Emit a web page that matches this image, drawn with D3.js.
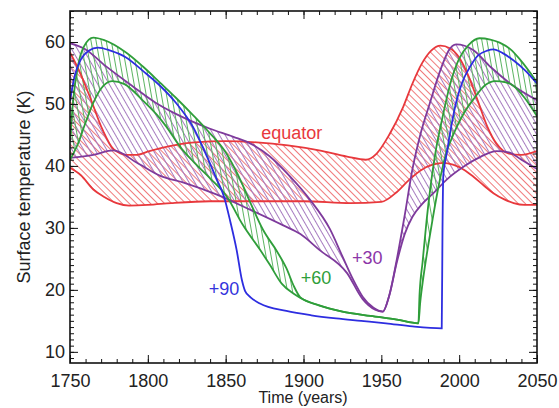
<!DOCTYPE html>
<html>
<head>
<meta charset="utf-8">
<script src="https://cdn.jsdelivr.net/npm/d3@7"></script>
<style>
  body { margin: 0; background: #fff; }
  text { font-family: "Liberation Sans", Arial, Helvetica, sans-serif; }
</style>
</head>
<body>
<svg id="chart" width="559" height="408"></svg>
<script>
// [year, surface temperature K]
const equatorMax = [[1750,58.3],[1756,55.3],[1763,51.0],[1771,45.8],[1778,42.7],[1786,41.8],[1793,41.8],[1801,42.4],[1814,43.2],[1830,43.8],[1850,44.0],[1870,43.8],[1890,43.3],[1910,42.5],[1928,41.5],[1940,41.0],[1947,42.0],[1955,45.0],[1964,49.5],[1970,53.3],[1976,56.5],[1982,58.6],[1988,59.4],[1994,59.0],[2000,57.5],[2006,54.5],[2012,50.5],[2018,46.4],[2024,43.6],[2032,42.0],[2040,41.8],[2050,42.4]];
const equatorMin = [[1750,39.7],[1757,38.5],[1765,36.2],[1772,35.0],[1780,34.0],[1788,33.6],[1800,33.7],[1815,34.0],[1840,34.3],[1870,34.3],[1900,34.3],[1930,34.0],[1950,34.2],[1960,35.8],[1968,37.8],[1976,39.4],[1983,40.2],[1990,40.5],[1996,40.2],[2003,39.4],[2009,38.3],[2016,36.8],[2022,35.6],[2029,34.6],[2035,34.0],[2042,33.7],[2050,33.7]];

const lat30Max = [[1750,59.8],[1760,58.8],[1773,56.1],[1790,52.9],[1805,50.2],[1818,48.4],[1840,46.0],[1855,44.7],[1866,43.6],[1878,41.6],[1891,38.4],[1904,34.6],[1917,29.8],[1925,25.4],[1932,21.6],[1938,18.9],[1945,17.1],[1951,16.5],[1955,19.0],[1960,25.0],[1965,32.0],[1970,39.5],[1975,45.0],[1981,50.0],[1988,55.5],[1993,58.5],[1998,59.6],[2009,58.7],[2020,56.0],[2035,52.9],[2050,50.6]];
const lat30Min = [[1750,41.3],[1765,41.8],[1778,42.5],[1793,40.5],[1808,38.4],[1823,37.3],[1844,35.4],[1866,32.9],[1887,30.4],[1898,29.0],[1910,26.5],[1928,22.7],[1938,18.5],[1946,16.8],[1951,16.5],[1955,19.0],[1960,24.5],[1965,29.0],[1970,31.8],[1976,33.8],[1983,35.5],[1992,37.8],[2003,39.9],[2014,41.5],[2024,42.4],[2032,42.2],[2040,41.0],[2050,39.5]];

const lat60Max = [[1750,44.0],[1752,50.5],[1755,56.0],[1759,59.3],[1765,60.7],[1772,60.3],[1786,58.3],[1797,56.0],[1808,53.4],[1818,51.0],[1829,48.2],[1838,45.8],[1850,42.2],[1858,38.5],[1866,34.0],[1874,29.7],[1883,26.2],[1889,23.5],[1894,20.5],[1898,18.8],[1910,17.5],[1925,16.5],[1943,15.8],[1960,15.2],[1973.8,14.6],[1974.5,19.0],[1976.5,24.5],[1979,31.0],[1981.5,36.5],[1985,42.5],[1989,47.5],[1994,53.0],[2000,57.3],[2006,59.5],[2013,60.6],[2020,60.4],[2026,59.9],[2033,58.8],[2039,57.2],[2050,53.5]];
const lat60Min = [[1750,41.0],[1755,43.5],[1760,47.0],[1765,50.2],[1770,52.5],[1777,53.7],[1785,53.2],[1797,50.5],[1806,48.2],[1812,46.3],[1821,43.0],[1830,40.5],[1840,38.0],[1850.6,35.1],[1861,30.5],[1872,26.5],[1878.5,24.0],[1886,21.0],[1893.5,19.4],[1898,18.7],[1910,17.5],[1925,16.5],[1943,15.8],[1960,15.2],[1973.8,14.6],[1975,18.0],[1977,22.0],[1980,27.0],[1983,31.5],[1987,37.0],[1991,41.5],[1997,45.5],[2003,48.5],[2009,50.7],[2017,53.1],[2023,53.7],[2030,53.5],[2035,52.9],[2042,51.0],[2050,48.0]];

const lat90 = [[1750,50.5],[1753,54.5],[1757,57.2],[1762,58.6],[1768,59.1],[1776,58.6],[1786,57.5],[1797,55.3],[1808,52.9],[1818,50.2],[1829,46.3],[1838,41.5],[1844,38.0],[1849,35.0],[1853,31.0],[1857,26.5],[1860.5,21.5],[1862.5,19.8],[1866,18.8],[1872,17.8],[1889,16.6],[1905,15.9],[1921,15.4],[1937,15.0],[1953,14.6],[1970,14.1],[1988.8,13.8],[1989.3,30.0],[1989.8,38.5],[1992,42.0],[1995,46.5],[1998,50.2],[2002,53.5],[2007,56.0],[2012,57.8],[2018,58.6],[2022,58.8],[2028,58.2],[2035,57.0],[2042,55.5],[2050,53.3]];

const xMajorTicks = [1750, 1800, 1850, 1900, 1950, 2000, 2050];
const yMajorTicks = [10, 20, 30, 40, 50, 60];
const seriesLabels = [
  { text: 'equator', at: [1892.5, 44.3], color: '#e8383c' },
  { text: '+90', at: [1849, 19.1], color: '#3434dc' },
  { text: '+60', at: [1908, 20.9], color: '#2f9e3a' },
  { text: '+30', at: [1941, 24.1], color: '#8c35a8' }
];

const svg = d3.select('#chart');
const x = d3.scaleLinear().domain([1750, 2050]).range([70, 537]);
const y = d3.scaleLinear().domain([8.2, 65]).range([363, 11]);

const defs = svg.append('defs');
defs.append('clipPath').attr('id', 'plot')
  .append('rect').attr('x', 70).attr('y', 11).attr('width', 467).attr('height', 352);

function hatch(id, color, angle, gap) {
  const p = defs.append('pattern')
    .attr('id', id)
    .attr('patternUnits', 'userSpaceOnUse')
    .attr('width', gap).attr('height', gap)
    .attr('patternTransform', `rotate(${angle})`);
  p.append('line')
    .attr('x1', gap / 2).attr('y1', 0).attr('x2', gap / 2).attr('y2', gap)
    .attr('stroke', color).attr('stroke-width', 1);
}
hatch('hRed', '#f07a7c', -45, 5);
hatch('hPurple', '#a77bc0', -30, 5);
hatch('hGreen', '#5cb462', -10, 5);

const line = d3.line().x(d => x(d[0])).y(d => y(d[1])).curve(d3.curveMonotoneX);

// zone entre deux courbes : courbe haute puis courbe basse à l'envers
function band(upper, lower) {
  const back = line(lower.slice().reverse()).replace(/^M/, 'L');
  return line(upper) + back + 'Z';
}

const g = svg.append('g').attr('clip-path', 'url(#plot)');

g.append('path').attr('d', band(equatorMax, equatorMin)).attr('fill', 'url(#hRed)');
g.append('path').attr('d', band(lat30Max, lat30Min)).attr('fill', 'url(#hPurple)');
g.append('path').attr('d', band(lat60Max, lat60Min)).attr('fill', 'url(#hGreen)');

const curves = [
  [equatorMax, '#e8383c'], [equatorMin, '#e8383c'],
  [lat30Max, '#7e3a9c'], [lat30Min, '#7e3a9c'],
  [lat60Max, '#2f9e3a'], [lat60Min, '#2f9e3a'],
  [lat90, '#2d2de0']
];
g.selectAll('path.curve').data(curves).enter()
  .append('path')
  .attr('class', 'curve')
  .attr('d', d => line(d[0]))
  .attr('fill', 'none')
  .attr('stroke', d => d[1])
  .attr('stroke-width', 1.8);

svg.selectAll('text.lbl').data(seriesLabels).enter()
  .append('text')
  .attr('class', 'lbl')
  .attr('x', d => x(d.at[0]))
  .attr('y', d => y(d.at[1]))
  .attr('text-anchor', 'middle')
  .attr('fill', d => d.color)
  .attr('font-size', 18)
  .text(d => d.text);

// axes, ticks vers l'intérieur sur les quatre côtés
const xMinor = d3.range(1750, 2051, 10);
const yMinor = d3.range(9, 66, 1);

function addAxis(axis, transform) {
  const a = svg.append('g').attr('transform', transform).call(axis);
  a.select('.domain').remove();
  a.selectAll('.tick line').attr('stroke', '#111');
  return a;
}

addAxis(d3.axisBottom(x).tickValues(xMinor).tickSize(-4).tickFormat(''), 'translate(0,363)');
addAxis(d3.axisTop(x).tickValues(xMinor).tickSize(-4).tickFormat(''), 'translate(0,11)');
addAxis(d3.axisLeft(y).tickValues(yMinor).tickSize(-4).tickFormat(''), 'translate(70,0)');
addAxis(d3.axisRight(y).tickValues(yMinor).tickSize(-4).tickFormat(''), 'translate(537,0)');

const bottom = addAxis(d3.axisBottom(x).tickValues(xMajorTicks).tickSize(-8).tickPadding(11).tickFormat(d3.format('d')), 'translate(0,363)');
addAxis(d3.axisTop(x).tickValues(xMajorTicks).tickSize(-8).tickFormat(''), 'translate(0,11)');
const left = addAxis(d3.axisLeft(y).tickValues(yMajorTicks).tickSize(-8).tickPadding(5), 'translate(70,0)');
addAxis(d3.axisRight(y).tickValues(yMajorTicks).tickSize(-8).tickFormat(''), 'translate(537,0)');

[bottom, left].forEach(a => a.selectAll('text')
  .attr('font-size', 18)
  .attr('fill', '#222')
  .style('font-family', '"Liberation Sans", Arial, sans-serif'));

svg.append('rect')
  .attr('x', 70).attr('y', 11).attr('width', 467).attr('height', 352)
  .attr('fill', 'none').attr('stroke', '#111').attr('stroke-width', 1.6);

svg.append('text')
  .attr('transform', 'translate(30,187) rotate(-90)')
  .attr('text-anchor', 'middle')
  .attr('font-size', 18)
  .attr('fill', '#222')
  .text('Surface temperature (K)');

svg.append('text')
  .attr('x', 303).attr('y', 403)
  .attr('text-anchor', 'middle')
  .attr('font-size', 16)
  .attr('fill', '#222')
  .text('Time (years)');
</script>
</body>
</html>
